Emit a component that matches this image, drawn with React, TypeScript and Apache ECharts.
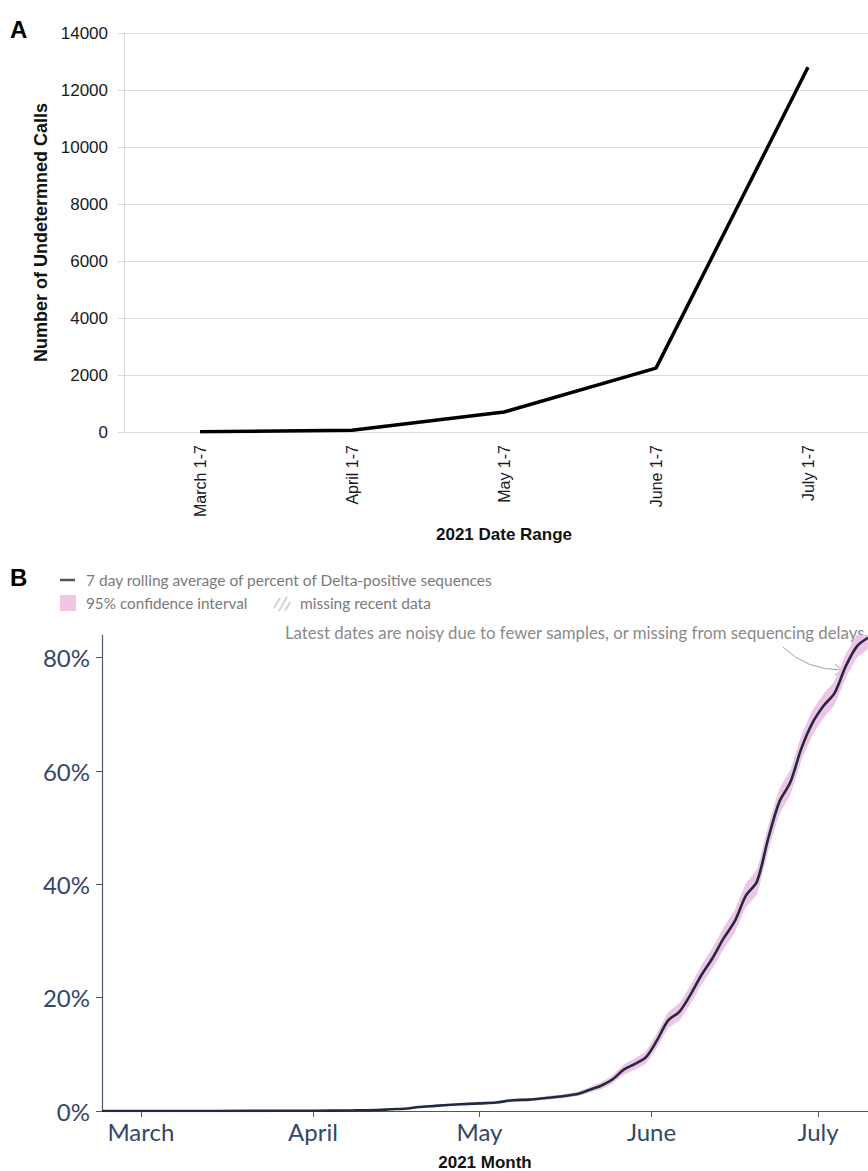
import React, { useEffect, useRef } from 'react';
import * as echarts from 'echarts';

// Panel A: weekly undetermined calls
const weekRanges = ['March 1-7', 'April 1-7', 'May 1-7', 'June 1-7', 'July 1-7'];
const undeterminedCalls = [10, 60, 700, 2240, 12800];

// Panel B: Delta share of sequences
const monthStarts = ['2021-03-01', '2021-04-01', '2021-05-01', '2021-06-01', '2021-07-01'];
const monthNames = ['March', 'April', 'May', 'June', 'July'];
const percentTicks = [0, 20, 40, 60, 80];

const deltaDates = [
  '2021-02-22', '2021-03-01', '2021-03-10', '2021-03-20', '2021-04-01', '2021-04-08',
  '2021-04-12', '2021-04-15', '2021-04-18', '2021-04-20', '2021-04-23', '2021-04-26',
  '2021-04-29', '2021-05-01', '2021-05-04', '2021-05-07', '2021-05-10', '2021-05-13',
  '2021-05-16', '2021-05-19', '2021-05-21', '2021-05-23', '2021-05-25', '2021-05-27',
  '2021-05-29', '2021-05-31', '2021-06-02', '2021-06-04', '2021-06-06', '2021-06-08',
  '2021-06-10', '2021-06-12', '2021-06-14', '2021-06-16', '2021-06-18', '2021-06-20',
  '2021-06-22', '2021-06-24', '2021-06-26', '2021-06-28', '2021-06-30', '2021-07-02',
  '2021-07-04', '2021-07-06', '2021-07-08', '2021-07-10',
];
const deltaAvg = [
  0, 0, 0, 0.02, 0.05, 0.1, 0.15, 0.3, 0.45, 0.7, 0.9, 1.1,
  1.25, 1.35, 1.5, 1.9, 2.0, 2.3, 2.6, 3.1, 3.8, 4.5, 5.6, 7.3,
  8.3, 9.5, 12.5, 16, 17.5, 20.5, 24, 27, 30.5, 33.5, 38, 40.5,
  48, 54.5, 58, 64, 68.5, 71.5, 73.8, 78.5, 82, 83.5,
];
const ciLower = [
  0, 0, 0, 0, 0.02, 0.06, 0.1, 0.2, 0.3, 0.5, 0.7, 0.9,
  1.05, 1.15, 1.3, 1.65, 1.75, 2.0, 2.25, 2.7, 3.3, 3.9, 4.9, 6.4,
  7.3, 8.4, 11.2, 14.6, 16.0, 18.9, 22.3, 25.2, 28.6, 31.5, 35.9, 38.3,
  45.8, 52.3, 55.8, 61.8, 66.3, 69.4, 71.7, 76.4, 80.0, 81.6,
];
const ciUpper = [
  0.02, 0.02, 0.03, 0.05, 0.09, 0.15, 0.2, 0.4, 0.6, 0.9, 1.1, 1.3,
  1.45, 1.55, 1.7, 2.15, 2.25, 2.6, 2.95, 3.5, 4.3, 5.1, 6.3, 8.2,
  9.3, 10.6, 13.8, 17.4, 19.0, 22.1, 25.7, 28.8, 32.4, 35.5, 40.1, 42.7,
  50.2, 56.7, 60.2, 66.2, 70.7, 73.6, 75.9, 80.6, 84.0, 85.4,
];

// calendar date -> day number counted from 1 March 2021
const dayOf = (s: string) => {
  const [y, m, d] = s.split('-').map(Number);
  return Math.round((Date.UTC(y, m - 1, d) - Date.UTC(2021, 2, 1)) / 86400000);
};

const ARIAL = '"Liberation Sans", Arial, sans-serif';
const GEO = 'Lato, "Noto Sans", sans-serif';
const NAVY = '#34476a';
const AXIS_B = '#4a586c';

export default function App() {
  const ref = useRef<HTMLDivElement>(null);

  useEffect(() => {
    document.body.style.margin = '0';
    if (!ref.current) return;
    const chart = echarts.init(ref.current, undefined, { renderer: 'svg' });

    const monthDays = monthStarts.map(dayOf);
    const days = deltaDates.map(dayOf);
    const avgData = days.map((t, i) => [t, deltaAvg[i]]);
    const bandData = days.map((t, i) => [t, ciLower[i], ciUpper[i]]);

    // confidence band: one polygon running along the upper bound and back along the lower bound
    const renderBand = (params: any, api: any) => {
      if (params.dataIndex !== 0) return null;
      const top = bandData.map((d) => api.coord([d[0], d[2]]));
      const bottom = bandData.map((d) => api.coord([d[0], d[1]])).reverse();
      return {
        type: 'polygon',
        shape: { points: top.concat(bottom), smooth: 0.15 },
        style: { fill: '#efc4e6' },
      };
    };

    chart.setOption({
      animation: false,
      grid: [
        { left: 124, top: 33, width: 760, height: 399, outerBoundsMode: 'none' },
        { left: 102, top: 635, right: 0, height: 476, outerBoundsMode: 'none' },
      ],
      xAxis: [
        {
          type: 'category',
          gridIndex: 0,
          data: weekRanges,
          boundaryGap: true,
          axisLine: { show: false },
          axisTick: { show: false },
          axisLabel: { rotate: 90, fontFamily: ARIAL, fontSize: 16, color: '#1a1a1a', margin: 13 },
          name: '2021 Date Range',
          nameLocation: 'middle',
          nameGap: 94,
          nameTextStyle: { fontFamily: ARIAL, fontWeight: 'bold', fontSize: 17, color: '#111' },
        },
        {
          type: 'value',
          gridIndex: 1,
          min: dayOf('2021-02-22'),
          max: dayOf('2021-07-10'),
          axisLine: { show: true, onZero: false, lineStyle: { color: AXIS_B, width: 1.2 } },
          axisTick: { show: true, length: 6, customValues: monthDays, lineStyle: { color: AXIS_B } },
          axisLabel: {
            customValues: monthDays,
            formatter: (v: number) => {
              const i = monthDays.indexOf(v);
              return i >= 0 ? monthNames[i] : '';
            },
            fontFamily: GEO,
            fontSize: 24,
            color: NAVY,
            margin: 8,
          },
          splitLine: { show: false },
          name: '2021 Month',
          nameLocation: 'middle',
          nameGap: 43,
          nameTextStyle: { fontFamily: ARIAL, fontWeight: 'bold', fontSize: 17, color: '#111', lineHeight: 17 },
        },
      ],
      yAxis: [
        {
          type: 'value',
          gridIndex: 0,
          min: 0,
          max: 14000,
          interval: 2000,
          axisLine: { show: true, lineStyle: { color: '#d9d9d9' } },
          axisTick: { show: true, length: 6, lineStyle: { color: '#d9d9d9' } },
          axisLabel: {
            formatter: (v: number) => String(v),
            fontFamily: ARIAL,
            fontSize: 17,
            color: '#1a1a1a',
            margin: 16,
          },
          splitLine: { lineStyle: { color: '#dcdcdc' } },
          name: 'Number of Undetermned Calls',
          nameLocation: 'middle',
          nameGap: 72,
          nameTextStyle: { fontFamily: ARIAL, fontWeight: 'bold', fontSize: 18, color: '#111' },
        },
        {
          type: 'value',
          gridIndex: 1,
          min: 0,
          max: 84,
          axisLine: { show: true, onZero: false, lineStyle: { color: AXIS_B, width: 1.2 } },
          axisTick: { show: true, length: 6, customValues: percentTicks, lineStyle: { color: AXIS_B } },
          axisLabel: {
            customValues: percentTicks,
            formatter: '{value}%',
            fontFamily: GEO,
            fontSize: 24,
            color: NAVY,
            margin: 12,
          },
          splitLine: { show: false },
        },
      ],
      series: [
        {
          type: 'line',
          xAxisIndex: 0,
          yAxisIndex: 0,
          data: undeterminedCalls,
          symbol: 'none',
          lineStyle: { color: '#000', width: 3.5 },
        },
        {
          name: '95% confidence interval',
          type: 'custom',
          xAxisIndex: 1,
          yAxisIndex: 1,
          data: bandData,
          renderItem: renderBand,
          clip: true,
          encode: { x: 0, y: [1, 2] },
          z: 2,
        },
        {
          name: '7 day rolling average of percent of Delta-positive sequences',
          type: 'line',
          xAxisIndex: 1,
          yAxisIndex: 1,
          data: avgData,
          symbol: 'none',
          smooth: 0.3,
          lineStyle: { color: '#1f2c3c', width: 2.6 },
          z: 5,
        },
      ],
      graphic: [
        { type: 'text', left: 10, top: 17, style: { text: 'A', font: `bold 24px ${ARIAL}`, fill: '#000' } },
        { type: 'text', left: 10, top: 565, style: { text: 'B', font: `bold 24px ${ARIAL}`, fill: '#000' } },
        // legend
        { type: 'line', shape: { x1: 60, y1: 580, x2: 75, y2: 580 }, style: { stroke: '#555', lineWidth: 2.5 } },
        {
          type: 'text', x: 86, y: 580,
          style: {
            text: '7 day rolling average of percent of Delta-positive sequences',
            font: `15.5px ${GEO}`, fill: '#7a7a7a', verticalAlign: 'middle',
          },
        },
        { type: 'rect', shape: { x: 60, y: 595, width: 16, height: 16 }, style: { fill: '#f0c6e7' } },
        {
          type: 'text', x: 86, y: 603,
          style: { text: '95% confidence interval', font: `15.3px ${GEO}`, fill: '#7a7a7a', verticalAlign: 'middle' },
        },
        { type: 'line', shape: { x1: 274, y1: 608, x2: 280, y2: 598 }, style: { stroke: '#d4d4d4', lineWidth: 2 } },
        { type: 'line', shape: { x1: 279, y1: 611, x2: 287, y2: 597 }, style: { stroke: '#d4d4d4', lineWidth: 2 } },
        { type: 'line', shape: { x1: 285, y1: 611, x2: 290, y2: 602 }, style: { stroke: '#d4d4d4', lineWidth: 2 } },
        {
          type: 'text', x: 300, y: 603,
          style: { text: 'missing recent data', font: `15.5px ${GEO}`, fill: '#7a7a7a', verticalAlign: 'middle' },
        },
        // annotation
        {
          type: 'text', x: 285, y: 632,
          style: {
            text: 'Latest dates are noisy due to fewer samples, or missing from sequencing delays',
            font: `16.8px ${GEO}`, fill: '#8a8a8a', verticalAlign: 'middle',
          },
        },
        {
          type: 'bezierCurve',
          shape: { x1: 783, y1: 647, x2: 842, y2: 670, cpx1: 806, cpy1: 670 },
          style: { stroke: '#a3a3a3', lineWidth: 1, fill: 'none' },
        },
        {
          type: 'polyline',
          shape: { points: [[835, 664], [842, 670], [835, 675]] },
          style: { stroke: '#a3a3a3', lineWidth: 1, fill: 'none' },
        },
      ],
    });

    return () => chart.dispose();
  }, []);

  return <div ref={ref} style={{ width: 868, height: 1171 }} />;
}
